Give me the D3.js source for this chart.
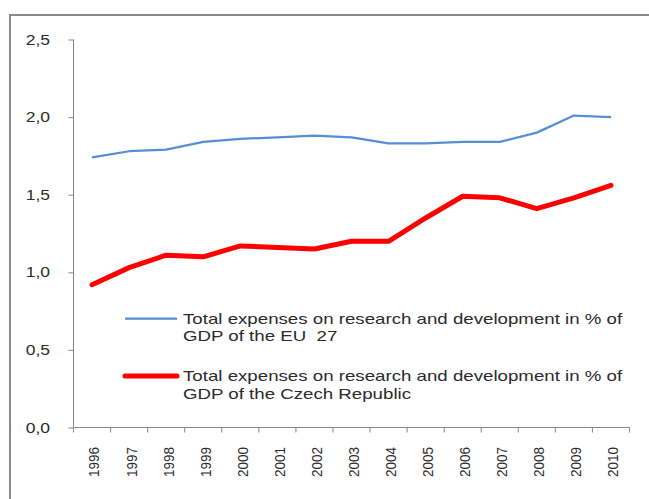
<!DOCTYPE html>
<html>
<head>
<meta charset="utf-8">
<script src="https://cdn.jsdelivr.net/npm/d3@7/dist/d3.min.js"></script>
<style>
  html, body { margin: 0; padding: 0; background: #fff; }
  svg { display: block; }
  text { font-family: "Liberation Sans", Arial, sans-serif; fill: #2a2a2a; white-space: pre; }
</style>
</head>
<body>
<svg id="chart" width="649" height="499"></svg>
<script>
// R&D expenditure as a share of GDP, 1996-2010
const years = ["1996","1997","1998","1999","2000","2001","2002","2003","2004","2005","2006","2007","2008","2009","2010"];
const euValues = [1.74,1.78,1.79,1.84,1.86,1.87,1.88,1.87,1.83,1.83,1.84,1.84,1.90,2.01,2.00];
const czValues = [0.92,1.03,1.11,1.10,1.17,1.16,1.15,1.20,1.20,1.35,1.49,1.48,1.41,1.48,1.56];
const yTicks = [0, 0.5, 1.0, 1.5, 2.0, 2.5];
const euLabel = ["Total expenses on research and development in % of", "GDP of the EU  27"];
const czLabel = ["Total expenses on research and development in % of", "GDP of the Czech Republic"];

const svg = d3.select("#chart");
const axisColor = "#868686";

// outer frame (only top and left edges fall inside the view)
svg.append("path")
  .attr("d", "M10,499 L10,15 L649,15")
  .attr("fill", "none")
  .attr("stroke", "#8a8a8a")
  .attr("stroke-width", 2);

const x = d3.scaleBand().domain(years).range([73.5, 629.5]);
const y = d3.scaleLinear().domain([0, 2.5]).range([427.5, 39.5]);
const cx = d => x(d) + x.bandwidth() / 2;

// y axis
const yAxis = svg.append("g").attr("transform", "translate(73.5,0)")
  .call(d3.axisLeft(y).tickValues(yTicks).tickSize(5).tickPadding(0).tickFormat(() => ""));
yAxis.select(".domain").attr("stroke", axisColor).attr("d", `M0,${y(2.5)}V${y(0)}`);
yAxis.selectAll(".tick line").attr("stroke", axisColor);

svg.append("g").selectAll("text").data(yTicks).join("text")
  .attr("transform", d => `translate(50,${y(d)}) scale(1.25,1)`)
  .attr("text-anchor", "end")
  .attr("dy", "0.36em")
  .style("font-size", "14px")
  .text(d => d3.format(".1f")(d).replace(".", ","));

// x axis: baseline, boundary ticks between categories, rotated year labels
svg.append("line")
  .attr("x1", x.range()[0]).attr("x2", x.range()[1])
  .attr("y1", y(0)).attr("y2", y(0))
  .attr("stroke", axisColor);

const boundaries = years.map(d => x(d)).concat([x.range()[1]]);
svg.append("g").selectAll("line").data(boundaries).join("line")
  .attr("x1", d => d).attr("x2", d => d)
  .attr("y1", y(0)).attr("y2", y(0) + 5)
  .attr("stroke", axisColor);

svg.append("g").selectAll("text").data(years).join("text")
  .attr("transform", d => `translate(${cx(d) + 2},447) scale(1.12,1) rotate(-90)`)
  .attr("text-anchor", "end")
  .attr("dy", "0.36em")
  .style("font-size", "13.5px")
  .text(d => d);

// series lines
const line = vals => d3.line()
  .x((d, i) => cx(years[i]))
  .y(d => y(d))(vals);

svg.append("path")
  .attr("d", line(euValues))
  .attr("fill", "none")
  .attr("stroke", "#558ed5")
  .attr("stroke-width", 2.25)
  .attr("stroke-linejoin", "round");

svg.append("path")
  .attr("d", line(czValues))
  .attr("fill", "none")
  .attr("stroke", "#ff0000")
  .attr("stroke-width", 5)
  .attr("stroke-linejoin", "round")
  .attr("stroke-linecap", "round");

// legend
const legend = [
  { lines: euLabel, color: "#558ed5", width: 2.25, top: 323.5 },
  { lines: czLabel, color: "#ff0000", width: 5, top: 381 }
];
legend.forEach(item => {
  svg.append("line")
    .attr("x1", 125).attr("x2", 177)
    .attr("y1", item.top - 5).attr("y2", item.top - 5)
    .attr("stroke", item.color)
    .attr("stroke-width", item.width)
    .attr("stroke-linecap", item.width > 3 ? "round" : "butt");
  const g = svg.append("g").attr("transform", `translate(183,${item.top}) scale(1.335,1)`);
  g.selectAll("text").data(item.lines).join("text")
    .attr("x", 0)
    .attr("y", (d, i) => i * 17.8)
    .style("font-size", "14px")
    .text(d => d);
});
</script>
</body>
</html>
